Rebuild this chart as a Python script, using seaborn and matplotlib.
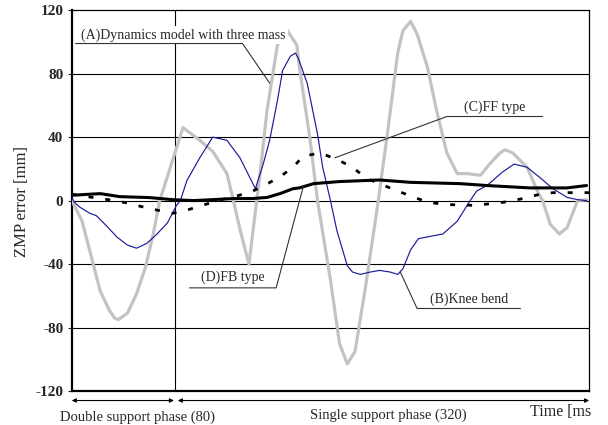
import matplotlib
matplotlib.use("Agg")
import matplotlib.pyplot as plt
import seaborn as sns
import pandas as pd

# ---- data (time in ms, ZMP error in mm) ----
tA = [0, 2, 8, 22, 29, 33, 36, 43, 50, 57, 63, 68, 86, 99, 109, 120, 125, 130, 137, 143, 146, 151, 159, 166, 174,
      176, 184, 190, 200, 207, 213, 219, 227, 237, 244, 252, 256, 262, 267, 275, 282, 290, 298, 306, 316, 323, 331,
      335, 341, 352, 360, 364, 370, 377, 383, 391, 398]
yA = [0, -3, -13, -57, -69, -74, -75, -71, -59, -42, -21, 0, 46, 38, 31, 17, 0, -18, -40, 0, 20, 57, 98, 108, 98,
      84, 40, 0, -50, -90, -103, -95, -55, 0, 42, 93, 107, 113, 105, 84, 57, 30, 17, 17, 16, 23, 30,
      32, 30, 21, 6, 0, -15, -21, -17, 0, 0.5]

tB = [0, 2, 6, 14, 19, 27, 35, 43, 50, 58, 66, 74, 81, 84, 89, 99, 109, 120, 130, 142, 148, 153, 159, 163, 169, 173,
      175, 182, 190, 194, 200, 205, 213, 217, 223, 231, 238, 246, 252, 256, 262, 268, 287, 298, 308, 313, 321, 333,
      342, 352, 362, 372, 383, 391, 398]
yB = [2, -1, -4, -8, -9.5, -16, -23, -28, -30, -27, -21, -14, -3, 0, 12.6, 27, 40, 38, 27, 7.5, 23, 38, 63, 82, 91, 93,
      90, 74, 42, 21, 0, -19, -41, -45, -46.5, -45, -44, -45, -46.5, -43, -31, -24, -21, -13, 0, 6, 9.5, 18,
      23, 21, 14.5, 7.5, 2, 0.6, 0]

tC = [0, 16, 29, 43, 55, 66, 78, 89, 101, 115, 128, 140, 151, 161, 171, 179, 192, 205, 217, 228, 252, 275, 290, 312,
      334, 347, 362, 372, 400]
yC = [4, 2, 0.5, -1.5, -4, -6, -8, -6, -3, 0.5, 3, 6, 10.5, 15, 21, 28, 30, 26, 21, 14, 6, -1, -2.5, -3,
      -1, 1, 4, 5, 5]

tD = [0, 3, 22, 37, 60, 78, 94, 109, 125, 140, 151, 161, 171, 176, 187, 207, 238, 262, 300, 321, 354, 383, 398]
yD = [3.5, 3.5, 4.4, 2.5, 1.9, 0.6, 0, 0.6, 1.3, 1.3, 2, 4.4, 7.5, 8, 10.7, 12, 13, 11.5, 10.7, 9.5, 8, 8, 9.5]

yticks = [-120, -80, -40, 0, 40, 80, 120]
labA = "(A)Dynamics model with three mass"
labB = "(B)Knee bend"
labC = "(C)FF type"
labD = "(D)FB type"
ylabel = "ZMP error [mm]"
phase1 = "Double support phase (80)"
phase2 = "Single support phase (320)"
xlabel = "Time [ms"

sns.set_style("white")
plt.rcParams['font.family'] = ['Liberation Serif', 'DejaVu Serif']

fig = plt.figure(figsize=(6.08, 4.25), dpi=100)
ax = fig.add_axes([0.118, 0.08, 0.851, 0.896])

dfA = pd.DataFrame({"t": tA, "y": yA})
dfB = pd.DataFrame({"t": tB, "y": yB})
dfC = pd.DataFrame({"t": tC, "y": yC})
dfD = pd.DataFrame({"t": tD, "y": yD})

sns.lineplot(data=dfA, x="t", y="y", ax=ax, color="#c3c3c3", lw=2.3, sort=False, estimator=None, zorder=3)
sns.lineplot(data=dfB, x="t", y="y", ax=ax, color="#1a1a9a", lw=0.85, sort=False, estimator=None, zorder=4)
sns.lineplot(data=dfC, x="t", y="y", ax=ax, color="black", lw=2.0, sort=False, estimator=None, zorder=5,
             linestyle=(0, (1.8, 4.3)))
sns.lineplot(data=dfD, x="t", y="y", ax=ax, color="black", lw=2.2, sort=False, estimator=None, zorder=5)

ax.set_xlim(0, 400)
ax.set_ylim(-120, 120)
ax.set_yticks(yticks)
ax.set_yticklabels([str(v) for v in yticks], fontsize=11, fontweight='bold')
ax.set_xticks([])
ax.tick_params(axis='y', length=3, width=0.8, pad=3, direction='out', left=True)
for v in yticks[1:-1]:
    ax.axhline(v, color='black', lw=0.8, zorder=1)
ax.axvline(80, color='black', lw=0.8, zorder=1)

for s in ['left', 'bottom']:
    ax.spines[s].set_linewidth(1.6)
for s in ['top', 'right']:
    ax.spines[s].set_linewidth(0.9)
for s in ax.spines.values():
    s.set_color('black')

ax.set_xlabel("")
ax.set_ylabel(ylabel, fontsize=12)
ax.yaxis.set_label_coords(-0.08, 0.497)

lc = '#333333'
# (A)
ax.text(7.5, 104.5, labA, fontsize=10, ha='left', va='center', zorder=8,
        bbox=dict(fc='white', ec='none', pad=1.5))
ax.plot([3, 132, 153], [99, 99, 74], color=lc, lw=0.8, zorder=9)
# (C)
ax.text(327, 59, labC, fontsize=10, ha='center', va='center', zorder=8)
ax.plot([364, 290, 203.5], [53, 53, 27], color=lc, lw=0.8, zorder=9)
# (D)
ax.text(124.5, -48.5, labD, fontsize=10, ha='center', va='center', zorder=8)
ax.plot([91, 158, 179], [-55, -55, 8.8], color=lc, lw=0.8, zorder=9)
# (B)
ax.text(307, -62, labB, fontsize=10, ha='center', va='center', zorder=8)
ax.plot([347, 267, 254], [-68, -68, -45], color=lc, lw=0.8, zorder=9)

# phase arrows below the axes
arrow = dict(arrowstyle='<|-|>', color='black', lw=0.8, mutation_scale=6, shrinkA=0, shrinkB=0)
ax.annotate("", xy=(0, -126), xytext=(79, -126), arrowprops=arrow, annotation_clip=False)
ax.annotate("", xy=(82, -126), xytext=(400, -126), arrowprops=arrow, annotation_clip=False)
ax.text(51, -136.5, phase1, fontsize=10.5, ha='center', va='center', clip_on=False)
ax.text(244.5, -135.5, phase2, fontsize=10.5, ha='center', va='center', clip_on=False)
ax.text(354.5, -133, xlabel, fontsize=11.5, ha='left', va='center', clip_on=False)

fig.savefig("out.png", dpi=100)
